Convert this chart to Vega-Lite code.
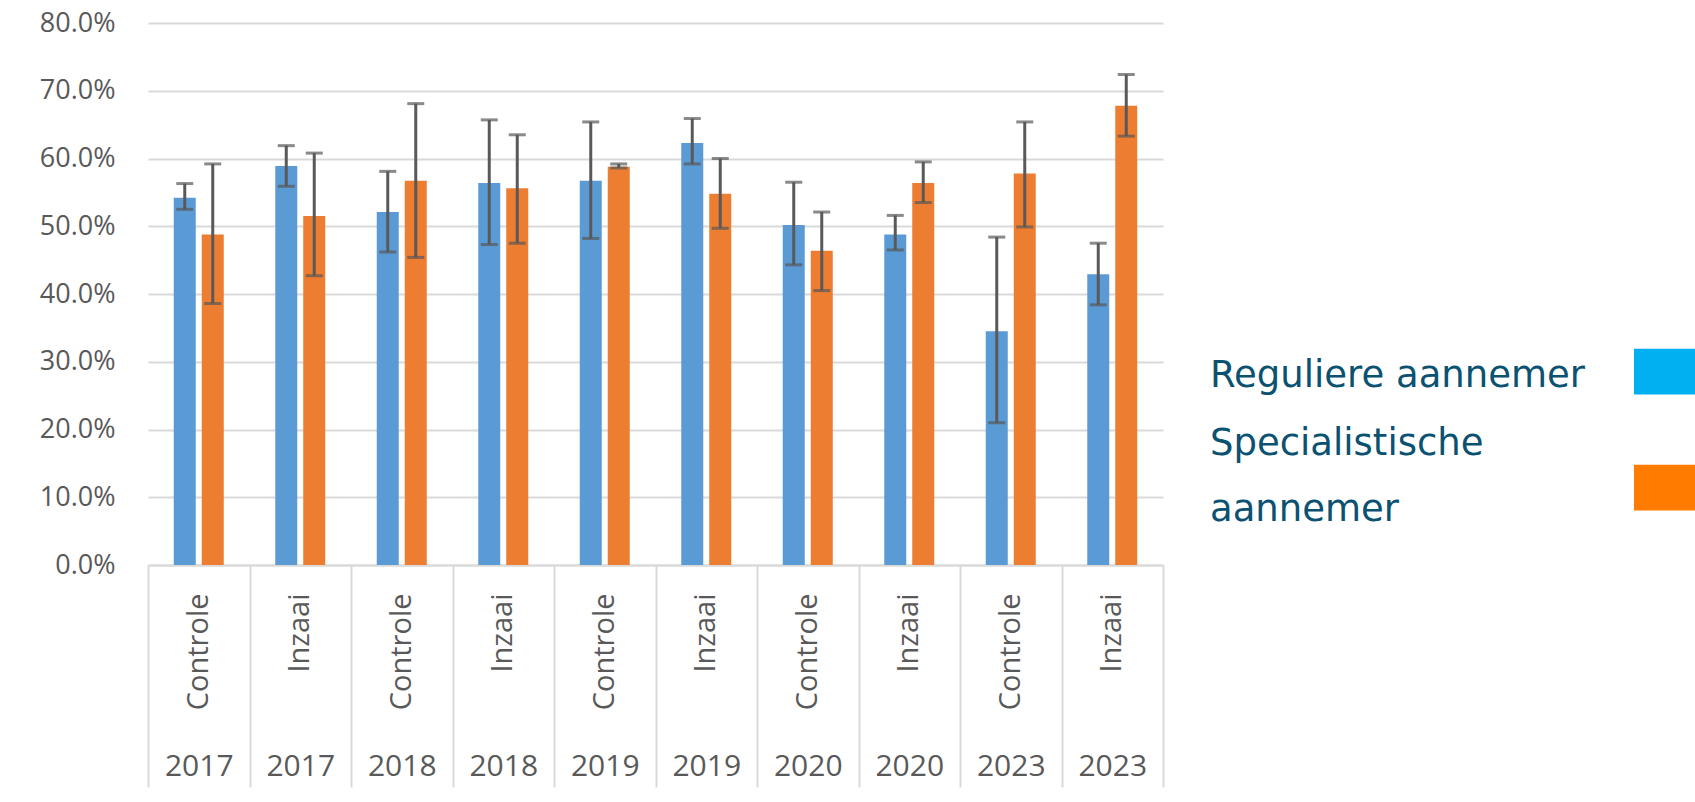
{
  "$schema": "https://vega.github.io/schema/vega-lite/v6.json",
  "autosize": {"type": "none"},
  "width": 1015,
  "height": 542,
  "padding": {"left": 148, "top": 23, "right": 532, "bottom": 237},
  "background": "white",
  "config": {
    "view": {"stroke": null},
    "font": "Open Sans"
  },
  "data": {
    "values": [
      {"groep": "2017 Controle", "aannemer": "Reguliere aannemer", "waarde": 0.542, "laag": 0.525, "hoog": 0.563},
      {"groep": "2017 Controle", "aannemer": "Specialistische aannemer", "waarde": 0.488, "laag": 0.386, "hoog": 0.592},
      {"groep": "2017 Inzaai", "aannemer": "Reguliere aannemer", "waarde": 0.589, "laag": 0.559, "hoog": 0.619},
      {"groep": "2017 Inzaai", "aannemer": "Specialistische aannemer", "waarde": 0.515, "laag": 0.427, "hoog": 0.608},
      {"groep": "2018 Controle", "aannemer": "Reguliere aannemer", "waarde": 0.521, "laag": 0.462, "hoog": 0.581},
      {"groep": "2018 Controle", "aannemer": "Specialistische aannemer", "waarde": 0.567, "laag": 0.454, "hoog": 0.681},
      {"groep": "2018 Inzaai", "aannemer": "Reguliere aannemer", "waarde": 0.564, "laag": 0.473, "hoog": 0.657},
      {"groep": "2018 Inzaai", "aannemer": "Specialistische aannemer", "waarde": 0.556, "laag": 0.475, "hoog": 0.635},
      {"groep": "2019 Controle", "aannemer": "Reguliere aannemer", "waarde": 0.567, "laag": 0.482, "hoog": 0.654},
      {"groep": "2019 Controle", "aannemer": "Specialistische aannemer", "waarde": 0.588, "laag": 0.586, "hoog": 0.592},
      {"groep": "2019 Inzaai", "aannemer": "Reguliere aannemer", "waarde": 0.623, "laag": 0.592, "hoog": 0.659},
      {"groep": "2019 Inzaai", "aannemer": "Specialistische aannemer", "waarde": 0.548, "laag": 0.497, "hoog": 0.600},
      {"groep": "2020 Controle", "aannemer": "Reguliere aannemer", "waarde": 0.502, "laag": 0.443, "hoog": 0.565},
      {"groep": "2020 Controle", "aannemer": "Specialistische aannemer", "waarde": 0.464, "laag": 0.405, "hoog": 0.521},
      {"groep": "2020 Inzaai", "aannemer": "Reguliere aannemer", "waarde": 0.488, "laag": 0.465, "hoog": 0.516},
      {"groep": "2020 Inzaai", "aannemer": "Specialistische aannemer", "waarde": 0.564, "laag": 0.535, "hoog": 0.595},
      {"groep": "2023 Controle", "aannemer": "Reguliere aannemer", "waarde": 0.345, "laag": 0.210, "hoog": 0.484},
      {"groep": "2023 Controle", "aannemer": "Specialistische aannemer", "waarde": 0.578, "laag": 0.499, "hoog": 0.654},
      {"groep": "2023 Inzaai", "aannemer": "Reguliere aannemer", "waarde": 0.429, "laag": 0.384, "hoog": 0.475},
      {"groep": "2023 Inzaai", "aannemer": "Specialistische aannemer", "waarde": 0.678, "laag": 0.633, "hoog": 0.724}
    ]
  },
  "layer": [
    {
      "mark": {"type": "bar"},
      "encoding": {
        "x": {
          "field": "groep", "type": "nominal", "sort": null, "title": null,
          "scale": {"paddingInner": 0, "paddingOuter": 0},
          "axis": {
            "orient": "bottom",
            "labelExpr": "split(datum.label, ' ')[1]",
            "labelAngle": -90, "labelAlign": "right", "labelBaseline": "middle",
            "labelPadding": 28, "labelFontSize": 29, "labelColor": "#595959",
            "ticks": false, "domainColor": "#d9d9d9", "domainWidth": 2
          }
        },
        "xOffset": {
          "field": "aannemer", "type": "nominal",
          "scale": {"paddingInner": 0.214, "paddingOuter": 0.92}
        },
        "y": {
          "field": "waarde", "type": "quantitative", "title": null,
          "scale": {"domain": [0, 0.8], "nice": false},
          "axis": {
            "values": [0, 0.1, 0.2, 0.3, 0.4, 0.5, 0.6, 0.7, 0.8],
            "format": ".1%", "domain": false, "ticks": false,
            "labelPadding": 33, "labelFontSize": 27, "labelColor": "#595959",
            "gridColor": "#d9d9d9", "gridWidth": 2
          }
        },
        "color": {
          "field": "aannemer", "type": "nominal",
          "scale": {"domain": ["Reguliere aannemer", "Specialistische aannemer"], "range": ["#5B9BD5", "#ED7D31"]},
          "legend": null
        },
        "opacity": {
          "field": "aannemer", "type": "nominal",
          "scale": {"range": [1, 1]},
          "legend": {
            "title": null, "orient": "none", "legendX": 1486, "legendY": 318,
            "padding": 0, "rowPadding": 29,
            "symbolType": "M-1,-0.75H1V0.75H-1Z", "symbolSize": 3721, "symbolStrokeWidth": 0,
            "symbolFillColor": {"expr": "datum.value == 'Reguliere aannemer' ? '#00B0F0' : '#FF7C00'"},
            "labelAlign": "left", "labelOffset": -485, "labelLimit": 600,
            "labelFont": "DejaVu Sans", "labelFontSize": 37, "labelColor": "#0B5272",
            "labelExpr": "datum.label == 'Specialistische aannemer' ? ['Specialistische', 'aannemer'] : datum.label",
            "encode": {
              "labels": {"update": {"lineHeight": {"value": 66}, "dy": {"signal": "datum.value == 'Reguliere aannemer' ? 4 : -44"}}}
            }
          }
        }
      }
    },
    {
      "mark": {"type": "rule", "color": "#595959", "strokeWidth": 3},
      "encoding": {
        "x": {
          "field": "groep", "type": "nominal", "sort": null, "title": null,
          "axis": {
            "orient": "bottom",
            "labelExpr": "split(datum.label, ' ')[0]",
            "labelAngle": 0, "labelBaseline": "top",
            "labelPadding": -36, "labelFontSize": 30, "labelColor": "#595959",
            "ticks": true, "tickBand": "extent", "tickSize": 222,
            "tickColor": "#d9d9d9", "tickWidth": 2, "domain": false
          }
        },
        "xOffset": {"field": "aannemer", "type": "nominal"},
        "y": {"field": "laag", "type": "quantitative"},
        "y2": {"field": "hoog"}
      }
    },
    {
      "mark": {"type": "tick", "color": "#595959", "thickness": 3, "size": 17},
      "encoding": {
        "x": {"field": "groep", "type": "nominal", "sort": null, "axis": null},
        "xOffset": {"field": "aannemer", "type": "nominal"},
        "y": {"field": "laag", "type": "quantitative"}
      }
    },
    {
      "mark": {"type": "tick", "color": "#595959", "thickness": 3, "size": 17},
      "encoding": {
        "x": {"field": "groep", "type": "nominal", "sort": null, "axis": null},
        "xOffset": {"field": "aannemer", "type": "nominal"},
        "y": {"field": "hoog", "type": "quantitative"}
      }
    }
  ],
  "resolve": {"axis": {"x": "independent"}}
}
